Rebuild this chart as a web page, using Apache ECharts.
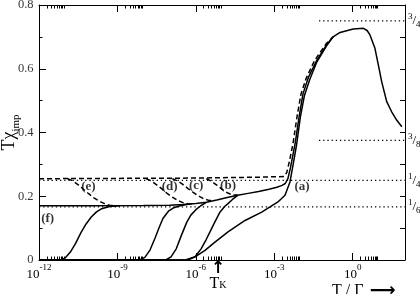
<!DOCTYPE html>
<html>
<head>
<meta charset="utf-8">
<script src="https://cdn.jsdelivr.net/npm/echarts@6/dist/echarts.min.js"></script>
<style>html,body{margin:0;padding:0;background:#fff}#c{width:420px;height:294px}</style>
</head>
<body>
<div id="c"></div>
<script>
// ---- data (x values are log10(T/Γ)) ----
const xMajor = [-12, -9, -6, -3, 0];
const yMajor = [0, 0.2, 0.4, 0.6, 0.8];
const yMinor = [0.1, 0.3, 0.5, 0.7];
const TK_LOG = -5.15;

const fLogT = [-12, -10, -8, -7, -6.5, -6.0, -5.6, -5.2, -4.8, -4.4, -4.0, -3.6, -3.2, -2.9, -2.7, -2.58, -2.48, -2.38, -2.2, -2.05, -1.9, -1.7, -1.37, -1.0, -0.75, -0.485, 0.02, 0.41, 0.55, 0.66, 0.85, 0.98, 1.11, 1.30, 1.49, 1.68, 1.88];
const fChi  = [0.170, 0.170, 0.171, 0.172, 0.174, 0.177, 0.181, 0.188, 0.196, 0.203, 0.209, 0.215, 0.222, 0.228, 0.234, 0.240, 0.255, 0.290, 0.367, 0.450, 0.522, 0.572, 0.627, 0.675, 0.700, 0.714, 0.725, 0.727, 0.720, 0.706, 0.664, 0.612, 0.559, 0.497, 0.465, 0.439, 0.418];

const c1LogT = [-12, -11.2, -11.0, -10.8, -10.6, -10.4, -10.2, -10.0, -9.8, -9.6, -9.3, -9.0];
const c1Chi  = [0, 0, 0.006, 0.025, 0.052, 0.085, 0.113, 0.135, 0.151, 0.161, 0.168, 0.170];

const c2LogT = [-12, -8.15, -7.95, -7.75, -7.56, -7.4, -7.26, -7.05, -6.87, -6.6, -6.3];
const c2Chi  = [0, 0, 0.008, 0.032, 0.069, 0.103, 0.130, 0.153, 0.163, 0.170, 0.175];

const c3LogT = [-12, -7.15, -6.95, -6.75, -6.55, -6.35, -6.2, -6.0, -5.8, -5.6];
const c3Chi  = [0, 0, 0.010, 0.035, 0.078, 0.118, 0.140, 0.158, 0.171, 0.181];

const c4LogT = [-12, -6.3, -6.03, -5.8, -5.6, -5.46, -5.3, -5.08, -4.9, -4.77, -4.6, -4.4];
const c4Chi  = [0, 0, 0.010, 0.035, 0.065, 0.088, 0.115, 0.150, 0.168, 0.177, 0.190, 0.203];

const aLogT = [-12, -6.4, -6.03, -5.65, -5.27, -4.77, -4.12, -3.48, -2.86, -2.59, -2.40, -2.3, -2.15, -2.0, -1.85, -1.65, -1.37, -1.0, -0.75];
const aChi  = [0, 0, 0.010, 0.030, 0.056, 0.088, 0.124, 0.150, 0.182, 0.203, 0.245, 0.290, 0.360, 0.450, 0.515, 0.565, 0.622, 0.672, 0.700];

const dTopLogT = [-12, -6, -3.5, -2.62, -2.52, -2.42, -2.28, -2.13, -1.98, -1.78, -1.45, -1.0, -0.75];
const dTopChi  = [0.255, 0.257, 0.260, 0.262, 0.275, 0.310, 0.367, 0.450, 0.520, 0.570, 0.627, 0.680, 0.700];

const dELogT = [-10.9, -10.7, -10.5, -10.3, -10.1, -9.9, -9.7, -9.5, -9.3, -9.1, -8.9];
const dEChi  = [0.255, 0.248, 0.236, 0.222, 0.208, 0.195, 0.185, 0.177, 0.172, 0.170, 0.170];

const dDLogT = [-7.9, -7.7, -7.5, -7.3, -7.1, -6.9, -6.7, -6.5, -6.3, -6.1];
const dDChi  = [0.255, 0.248, 0.236, 0.223, 0.209, 0.197, 0.187, 0.180, 0.176, 0.176];

const dCLogT = [-6.9, -6.7, -6.5, -6.3, -6.1, -5.9, -5.7, -5.5, -5.3];
const dCChi  = [0.255, 0.248, 0.237, 0.224, 0.212, 0.201, 0.192, 0.187, 0.187];

const dBLogT = [-5.6, -5.4, -5.2, -5.0, -4.8, -4.6, -4.4];
const dBChi  = [0.255, 0.247, 0.235, 0.222, 0.211, 0.204, 0.204];

const refLevels = [0.75, 0.375, 0.25, 1/6];
const refStartLogT = [-1.29, -1.29, -12, -12];
const refEndLogT = 2;
const fracNum = ['3', '3', '1', '1'];
const fracDen = ['4', '8', '4', '6'];

const annoText = ['(a)', '(b)', '(c)', '(d)', '(e)', '(f)'];
const annoLogT = [-1.94, -4.77, -5.99, -7.0, -10.11, -11.67];
const annoChi  = [0.231, 0.234, 0.232, 0.230, 0.230, 0.131];

// ---- build ----
const FONT = 'Liberation Serif';
const X_MIN = -12, X_MAX = 2;
const zip = (xs, ys) => xs.map((x, i) => [x, ys[i]]);
const xMinor = [];
xMajor.forEach(m => { for (let k = 2; k <= 9; k++) xMinor.push(m + Math.log10(k)); });

const black = '#000';
const solid = (xs, ys) => ({type: 'line', data: zip(xs, ys), showSymbol: false, silent: true,
  lineStyle: {color: black, width: 1.5}, z: 5});
const dashed = (xs, ys) => ({type: 'line', data: zip(xs, ys), showSymbol: false, silent: true,
  lineStyle: {color: black, width: 1.5, type: [5, 3]}, z: 4});

const series = [];
refLevels.forEach((v, i) => series.push({type: 'line', showSymbol: false, silent: true,
  data: [[refStartLogT[i], v], [refEndLogT, v]],
  lineStyle: {color: black, width: 1.3, type: [1.3, 2.9]}, z: 3}));
series.push(dashed(dTopLogT, dTopChi));
series.push(dashed(dELogT, dEChi));
series.push(dashed(dDLogT, dDChi));
series.push(dashed(dCLogT, dCChi));
series.push(dashed(dBLogT, dBChi));
series.push(solid(fLogT, fChi));
series.push(solid(c1LogT, c1Chi));
series.push(solid(c2LogT, c2Chi));
series.push(solid(c3LogT, c3Chi));
series.push(solid(c4LogT, c4Chi));
series.push(solid(aLogT, aChi));
series.push({type: 'scatter', silent: true, symbolSize: 1, itemStyle: {color: 'rgba(0,0,0,0)'},
  data: annoText.map((t, i) => [annoLogT[i], annoChi[i], t]),
  label: {show: true, position: 'inside', formatter: p => p.data[2],
    fontFamily: FONT, fontWeight: 'bold', fontSize: 13, color: black}, z: 6});
// y tick labels, anchored on the left edge of the x scale
series.push({type: 'scatter', silent: true, clip: false, symbolSize: 1, itemStyle: {color: 'rgba(0,0,0,0)'},
  data: yMajor.map(v => [X_MIN, v]),
  label: {show: true, position: 'left', distance: 5,
    formatter: p => p.data[1] === 0 ? '0' : p.data[1].toFixed(1),
    fontFamily: FONT, fontSize: 12.5, color: black}, z: 6});

const axLine = {show: true, onZero: false, lineStyle: {color: black, width: 1}};
const noLine = {show: false, onZero: false};
const baseX = {type: 'value', min: X_MIN, max: X_MAX, splitLine: {show: false}};
const baseY = {type: 'value', min: 0, max: 0.8, splitLine: {show: false}};

const option = {
  animation: false,
  grid: {left: 39, right: 15, top: 5, bottom: 34, containLabel: false, outerBoundsMode: 'none'},
  xAxis: [
    Object.assign({}, baseX, {position: 'bottom', axisLine: axLine,
      axisTick: {inside: true, length: 7, customValues: xMajor, lineStyle: {color: black}},
      axisLabel: {customValues: xMajor, margin: 3, color: black,
        formatter: v => '{b|10}{e|' + v + '}',
        rich: {b: {fontFamily: FONT, fontSize: 13, padding: [5, 0, 0, 0], verticalAlign: 'bottom', color: black},
               e: {fontFamily: FONT, fontSize: 9, verticalAlign: 'top', color: black}}},
      name: '{t|T / Γ}{ar| ⟶}', nameLocation: 'end', nameGap: -73,
      nameTextStyle: {align: 'left', verticalAlign: 'top', padding: [22, 0, 0, 0],
        rich: {t: {fontFamily: FONT, fontSize: 16, color: black}, ar: {fontFamily: 'DejaVu Sans', fontSize: 18, fontWeight: 'bold', color: black}}}}),
    Object.assign({}, baseX, {position: 'bottom', axisLine: noLine,
      axisTick: {inside: true, length: 3.5, customValues: xMinor, lineStyle: {color: black}},
      axisLabel: {show: false}}),
    Object.assign({}, baseX, {position: 'top', axisLine: axLine,
      axisTick: {inside: true, length: 7, customValues: xMajor, lineStyle: {color: black}},
      axisLabel: {show: false}}),
    Object.assign({}, baseX, {position: 'top', axisLine: noLine,
      axisTick: {inside: true, length: 3.5, customValues: xMinor, lineStyle: {color: black}},
      axisLabel: {show: false}}),
    Object.assign({}, baseX, {position: 'bottom', axisLine: noLine, axisTick: {show: false},
      axisLabel: {customValues: [TK_LOG], margin: 1, color: black, lineHeight: 14,
        formatter: () => '{a|↑}\n{t|T}{k|K}',
        rich: {a: {fontFamily: 'DejaVu Sans', fontSize: 17, fontWeight: 'bold', color: black, lineHeight: 15},
               t: {fontFamily: FONT, fontSize: 16, color: black, padding: [0, 0, 4, 0], verticalAlign: 'top'},
               k: {fontFamily: FONT, fontSize: 10, color: black, verticalAlign: 'bottom'}}}})
  ],
  yAxis: [
    Object.assign({}, baseY, {position: 'left', axisLine: axLine,
      axisTick: {inside: true, length: 7, customValues: yMajor, lineStyle: {color: black}},
      axisLabel: {show: false}}),
    Object.assign({}, baseY, {position: 'left', axisLine: noLine,
      axisTick: {inside: true, length: 3.5, customValues: yMinor, lineStyle: {color: black}},
      axisLabel: {show: false}}),
    Object.assign({}, baseY, {position: 'left', axisLine: noLine, axisTick: {show: false},
      axisLabel: {show: false},
      name: '{t|Tχ}{s|imp}', nameLocation: 'middle', nameGap: 28, nameRotate: 90, nameMoveOverlap: false,
      nameTextStyle: {align: 'center', verticalAlign: 'middle',
        rich: {t: {fontFamily: FONT, fontSize: 18, color: black, padding: [0, 0, 4, 0], verticalAlign: 'top'},
               s: {fontFamily: FONT, fontSize: 11, color: black, verticalAlign: 'bottom'}}}}),
    Object.assign({}, baseY, {position: 'right', axisLine: axLine,
      axisTick: {inside: true, length: 5, customValues: yMajor.concat(yMinor), lineStyle: {color: black}},
      axisLabel: {show: false}}),
    Object.assign({}, baseY, {position: 'right', axisLine: noLine, axisTick: {show: false},
      axisLabel: {customValues: refLevels, margin: 3, color: black,
        formatter: v => { const i = refLevels.findIndex(r => Math.abs(r - v) < 1e-6); return '{n|' + fracNum[i] + '}{sl|/}{d|' + fracDen[i] + '}'; },
        rich: {n: {fontFamily: FONT, fontSize: 9, verticalAlign: 'top', color: black},
               sl: {fontFamily: FONT, fontSize: 13, padding: [2, 0, 2, 0], color: black},
               d: {fontFamily: FONT, fontSize: 9, verticalAlign: 'bottom', color: black}}}})
  ],
  series: series
};

const chart = echarts.init(document.getElementById('c'), null, {renderer: 'canvas'});
chart.setOption(option);
</script>
</body>
</html>
